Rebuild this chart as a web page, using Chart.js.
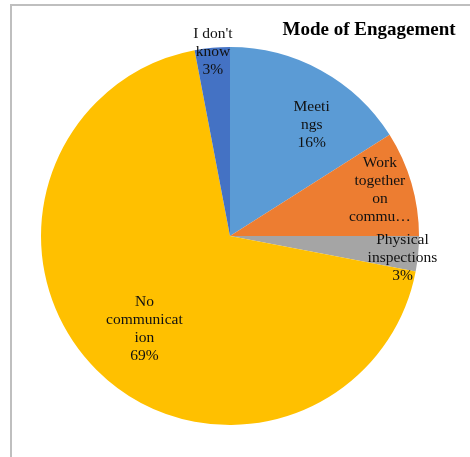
<!DOCTYPE html>
<html>
<head>
<meta charset="utf-8">
<script src="https://cdn.jsdelivr.net/npm/chart.js@4/dist/chart.umd.min.js"></script>
<style>
  html, body { margin: 0; padding: 0; background: #fff; }
  #wrap { position: relative; width: 470px; height: 457px; overflow: hidden; }
  #frame { position: absolute; left: 10px; top: 4px; width: 480px; height: 480px;
           border-top: 2px solid #bfbfbf; border-left: 2px solid #bfbfbf; }
  canvas { position: absolute; left: 0; top: 0; }
</style>
</head>
<body>
<div id="wrap">
  <div id="frame"></div>
  <canvas id="myChart" width="470" height="457"></canvas>
</div>
<script>
const categories = ["Meetings", "Work together on commu\u2026", "Physical inspections", "No communication", "I don't know"];
const values = [16, 9, 3, 69, 3];
const colors = ["#5b9bd5", "#ed7d31", "#a5a5a5", "#ffc000", "#4472c4"];
// wrapped label text as it sits inside each slice
const labelLines = [
  ["Meeti", "ngs"],
  ["Work", "together", "on", "commu\u2026"],
  ["Physical", "inspections"],
  ["No", "communicat", "ion"],
  ["I don't", "know"]
];
const showValue = [true, false, true, true, true];

// where each label sits: fraction along the slice, fraction of radius
const labelPlace = [
  [0.63, 0.73],
  [0.47, 0.83],
  [0.67, 0.92],
  [0.49, 0.67],
  [0.51, 0.98]
];

const sliceLabels = {
  id: "sliceLabels",
  afterDatasetsDraw(chart) {
    const ctx = chart.ctx;
    const arcs = chart.getDatasetMeta(0).data;
    const total = values.reduce((a, b) => a + b, 0);
    ctx.save();
    ctx.font = "15.5px 'Liberation Serif', serif";
    ctx.fillStyle = "#111";
    ctx.textAlign = "center";
    ctx.textBaseline = "middle";
    const lh = 18;
    arcs.forEach((arc, i) => {
      const p = arc.getProps(["x", "y", "startAngle", "endAngle", "outerRadius"], true);
      const a = p.startAngle + (p.endAngle - p.startAngle) * labelPlace[i][0];
      const r = p.outerRadius * labelPlace[i][1];
      const cx = p.x + Math.cos(a) * r;
      const cy = p.y + Math.sin(a) * r;
      const lines = labelLines[i].slice();
      if (showValue[i]) lines.push(Math.round(values[i] / total * 100) + "%");
      const top = cy - (lines.length - 1) * lh / 2;
      lines.forEach((t, k) => ctx.fillText(t, cx, top + k * lh));
    });
    // chart heading
    ctx.font = "bold 19px 'Liberation Serif', serif";
    ctx.fillStyle = "#000";
    ctx.fillText("Mode of Engagement", 369, 30);
    ctx.restore();
  }
};

new Chart(document.getElementById("myChart").getContext("2d"), {
  type: "pie",
  data: {
    labels: categories,
    datasets: [{
      data: values,
      backgroundColor: colors,
      borderWidth: 0
    }]
  },
  options: {
    responsive: false,
    animation: false,
    layout: { padding: { left: 41, right: 51, top: 47, bottom: 32 } },
    plugins: {
      legend: { display: false },
      tooltip: { enabled: false }
    }
  },
  plugins: [sliceLabels]
});
</script>
</body>
</html>
